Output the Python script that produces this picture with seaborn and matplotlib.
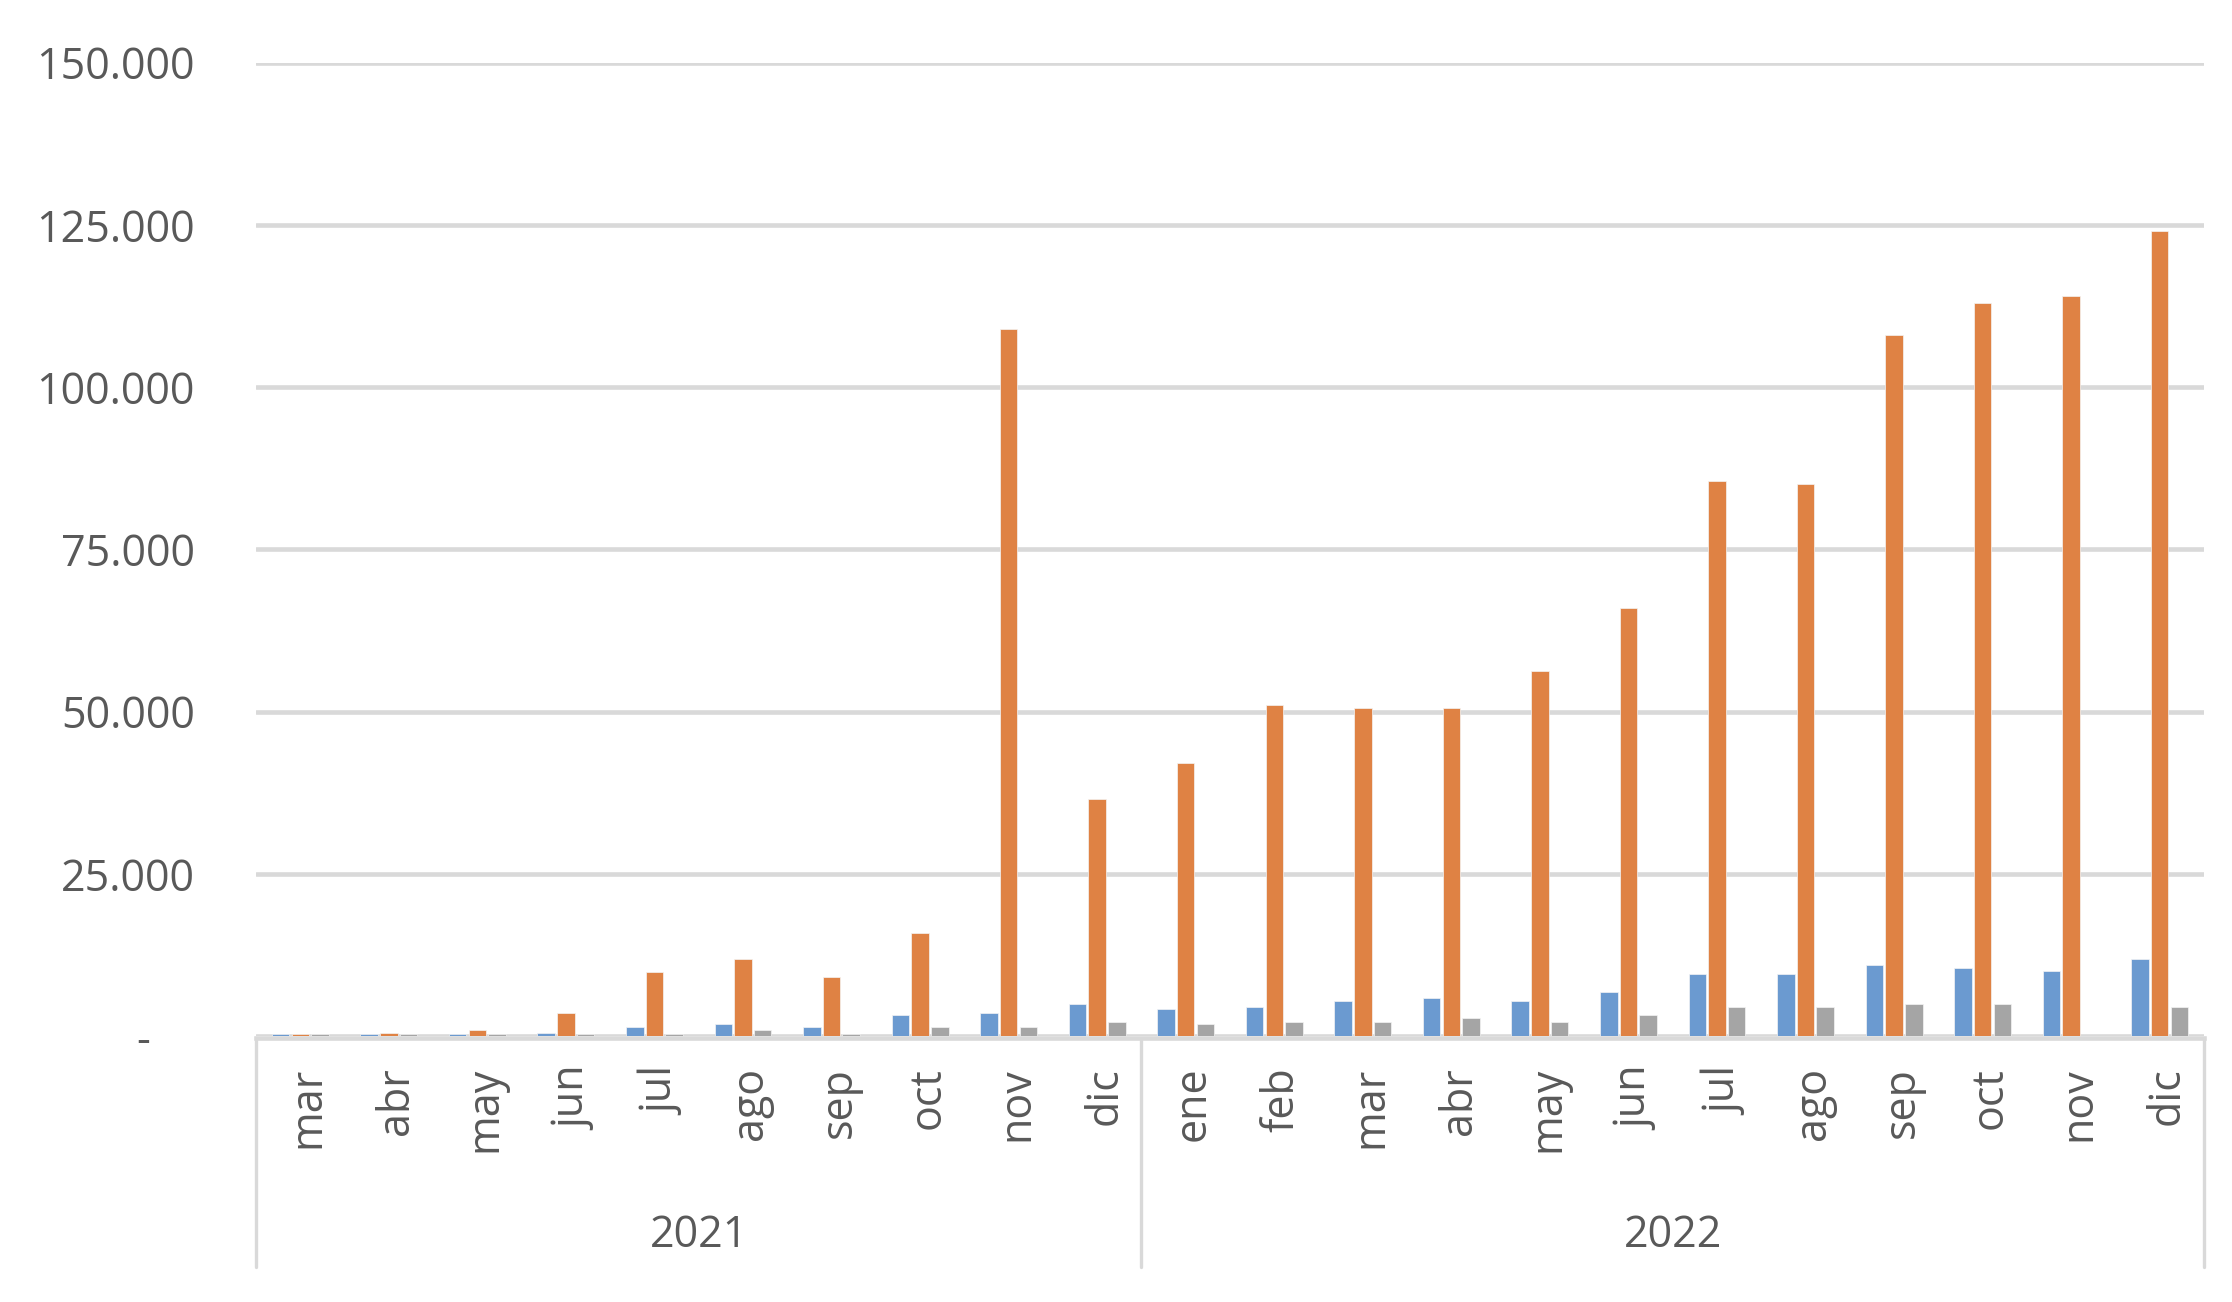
import matplotlib
matplotlib.use("Agg")
import matplotlib.pyplot as plt
import matplotlib.transforms as mtransforms
from matplotlib.ticker import FuncFormatter, MultipleLocator
import seaborn as sns
import pandas as pd

# ---------------- data ----------------
months = ["mar", "abr", "may", "jun", "jul", "ago", "sep", "oct", "nov", "dic",
          "ene", "feb", "mar", "abr", "may", "jun", "jul", "ago", "sep", "oct", "nov", "dic"]
years = ["2021"] * 10 + ["2022"] * 12
year_labels = ["2021", "2022"]

serie_azul = [300, 300, 350, 400, 1350, 1800, 1350, 3200, 3600, 5000,
              4100, 4500, 5400, 5900, 5400, 6800, 9500, 9500, 10900, 10500, 10000, 11800]
serie_naranja = [350, 400, 900, 3600, 9900, 11800, 9100, 15900, 108900, 36500,
                 42000, 51000, 50500, 50500, 56200, 66000, 85500, 85000, 108000, 113000, 114000, 124000]
serie_gris = [300, 300, 250, 350, 300, 900, 300, 1350, 1350, 2200,
              1800, 2200, 2200, 2700, 2200, 3200, 4500, 4500, 5000, 5000, 0, 4500]
series_names = ["Serie 1", "Serie 2", "Serie 3"]
colors = ["#6B9AD0", "#DF8244", "#A5A5A5"]

# ---------------- frame ----------------
keys = [f"{m} {y}" for m, y in zip(months, years)]
rows = []
for name, vals in zip(series_names, [serie_azul, serie_naranja, serie_gris]):
    for k, v in zip(keys, vals):
        rows.append({"periodo": k, "serie": name, "valor": v})
df = pd.DataFrame(rows)

sns.set_theme(style="white")
plt.rcParams["font.family"] = ["Open Sans", "DejaVu Sans"]

W, H = 2232, 1302
fig = plt.figure(figsize=(W / 100, H / 100), dpi=100)
ax_left, ax_right = 256 / W, 2204 / W
ax_bottom, ax_top = (H - 1036) / H, (H - 62.6) / H
ax = fig.add_axes([ax_left, ax_bottom, ax_right - ax_left, ax_top - ax_bottom])

sns.barplot(data=df, x="periodo", y="valor", hue="serie", order=keys,
            hue_order=series_names, palette=colors, saturation=1,
            width=0.667, gap=0.11, edgecolor="#F4F4F4", linewidth=0.5,
            legend=False, ax=ax, zorder=3)

ax.set_xlim(-0.5, len(keys) - 0.5)
ax.set_ylim(0, 150000)
ax.yaxis.set_major_locator(MultipleLocator(25000))


def fmt(v, pos):
    if abs(v) < 1:
        return "-    "
    return f"{int(round(v)):,}".replace(",", ".")


ax.yaxis.set_major_formatter(FuncFormatter(fmt))
ax.grid(axis="y", color="#D9D9D9", linewidth=3.3, zorder=0)
ax.grid(axis="x", visible=False)
ax.set_axisbelow(True)

for s in ["top", "right", "left"]:
    ax.spines[s].set_visible(False)
ax.spines["bottom"].set_color("#D9D9D9")
ax.spines["bottom"].set_linewidth(3.3)
ax.spines["bottom"].set_position(("outward", 1.7))
ax.spines["bottom"].set_zorder(4)

ax.set_xlabel("")
ax.set_ylabel("")
ax.set_xticks(range(len(keys)))
ax.set_xticklabels(months, rotation=90, fontsize=31, color="#595959")
ax.tick_params(axis="x", length=0, pad=20.5)
ax.tick_params(axis="y", length=0, pad=44, labelsize=31, labelcolor="#595959")
shift = mtransforms.ScaledTranslation(8 / 100, 0, fig.dpi_scale_trans)
for lbl in ax.get_xticklabels():
    lbl.set_transform(lbl.get_transform() + shift)

# group separators and year labels
trans = mtransforms.blended_transform_factory(ax.transData, ax.transAxes)
ax_h_px = (ax_top - ax_bottom) * H
sep_len = (1267 - 1036) / ax_h_px
for xpos in [-0.5, 9.5, len(keys) - 0.5]:
    ax.plot([xpos, xpos], [-2.5 / ax_h_px, -sep_len], transform=trans, color="#D9D9D9",
            linewidth=2.4, clip_on=False, zorder=2)

year_y = -(1236 - 1036) / ax_h_px
ax.text(4.5, year_y, year_labels[0], transform=trans, ha="center", va="center",
        fontsize=31, color="#595959")
ax.text(15.5, year_y, year_labels[1], transform=trans, ha="center", va="center",
        fontsize=31, color="#595959")

fig.savefig("out.png", dpi=100, facecolor="white")
